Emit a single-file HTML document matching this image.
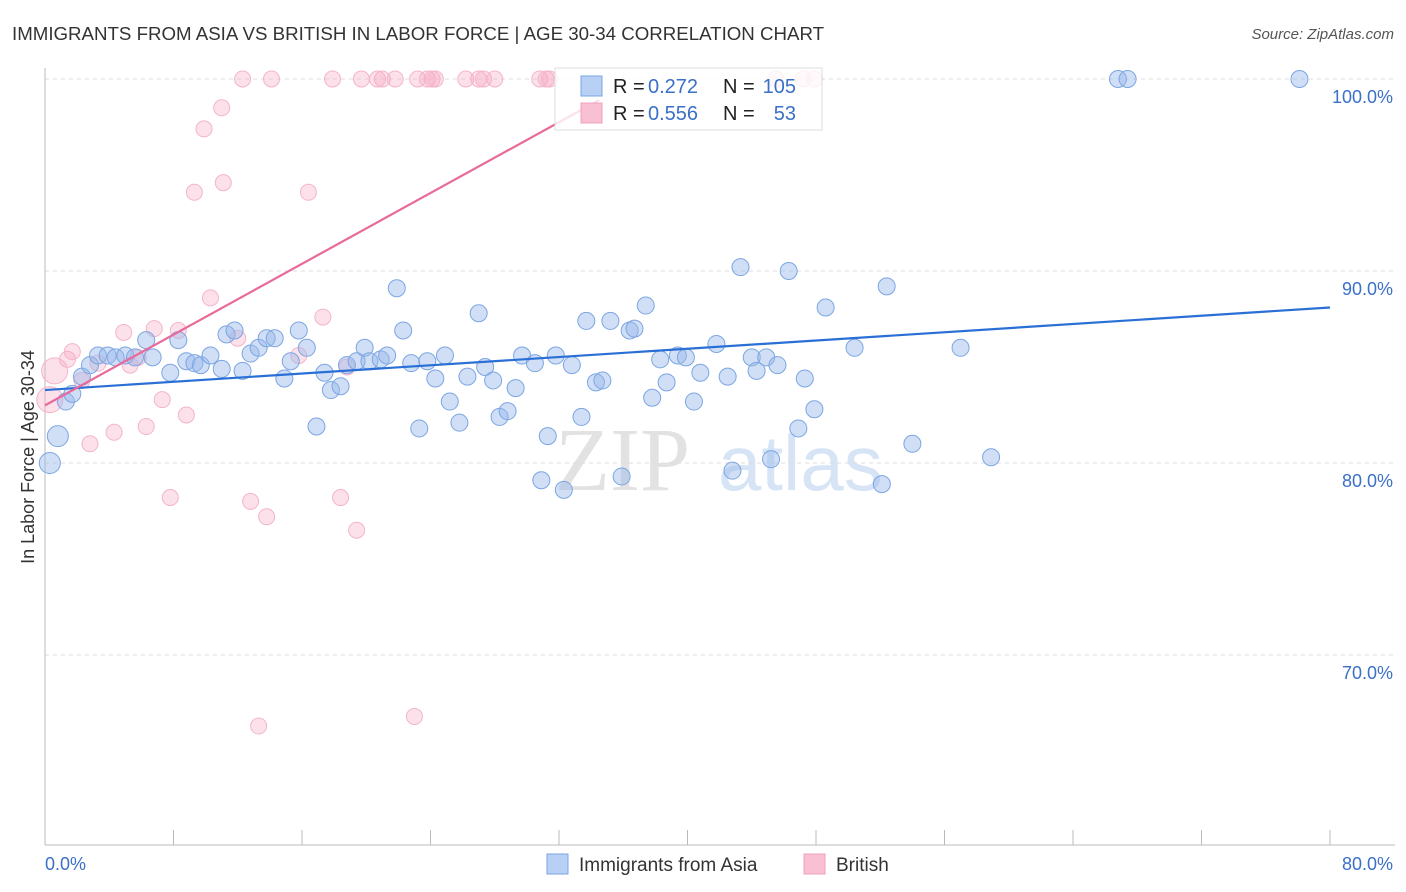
<!DOCTYPE html>
<html><head><meta charset="utf-8">
<style>
body{margin:0;background:#fff;font-family:"Liberation Sans",sans-serif;}
#wrap{position:relative;width:1406px;height:892px;overflow:hidden;}
</style></head>
<body>
<div id="wrap">
<svg id="chart" width="1406" height="892"></svg>
</div>
<script>
const blueX=[0.3,0.8,1.3,1.7,2.3,2.8,3.3,3.9,4.4,5.0,5.6,6.3,6.7,7.8,8.3,8.8,9.3,9.7,10.3,11.0,11.3,11.8,12.3,12.8,13.3,13.8,14.3,14.9,15.3,15.8,16.3,16.9,17.4,17.8,18.4,18.8,19.4,19.9,20.2,20.9,21.3,21.9,22.3,22.8,23.3,23.8,24.3,24.9,25.2,25.8,26.3,27.0,27.4,27.9,28.3,28.8,29.3,29.7,30.5,30.9,31.3,31.8,32.3,32.8,33.4,33.7,34.3,34.7,35.2,35.9,36.4,36.7,37.4,37.8,38.3,38.7,39.4,39.9,40.4,40.8,41.8,42.5,42.8,43.3,44.0,44.3,44.9,45.2,45.6,46.3,46.9,47.3,47.9,48.6,50.4,52.1,52.4,54.0,57.0,58.9,66.8,67.4,78.1];
const blueY=[80.0,81.4,83.2,83.6,84.5,85.1,85.6,85.6,85.5,85.6,85.5,86.4,85.5,84.7,86.4,85.3,85.2,85.1,85.6,84.9,86.7,86.9,84.8,85.7,86.0,86.5,86.5,84.4,85.3,86.9,86.0,81.9,84.7,83.8,84.0,85.1,85.3,86.0,85.3,85.4,85.6,89.1,86.9,85.2,81.8,85.3,84.4,85.6,83.2,82.1,84.5,87.8,85.0,84.3,82.4,82.7,83.9,85.6,85.2,79.1,81.4,85.6,78.6,85.1,82.4,87.4,84.2,84.3,87.4,79.3,86.9,87.0,88.2,83.4,85.4,84.2,85.6,85.5,83.2,84.7,86.2,84.5,79.6,90.2,85.5,84.8,85.5,80.2,85.1,90.0,81.8,84.4,82.8,88.1,86.0,78.9,89.2,81.0,86.0,80.3,100,100,100];
const pinkX=[0.3,0.6,1.4,1.7,2.3,2.8,3.3,4.3,4.9,5.3,5.8,6.3,6.8,7.3,7.8,8.3,8.8,9.3,9.9,10.3,11.0,11.1,12.0,12.3,12.8,13.8,14.1,15.8,16.4,17.3,17.9,18.4,18.8,19.4,19.7,20.7,21.0,21.8,23.0,23.2,23.8,24.1,24.3,26.2,27.0,27.3,28.0,30.8,31.2,31.4,13.3,45.5,47.2,47.9];
const pinkY=[83.3,84.8,85.4,85.8,84.3,81.0,85.2,81.6,86.8,85.1,85.5,81.9,87.0,83.3,78.2,86.9,82.5,94.1,97.4,88.6,98.5,94.6,86.5,100,78.0,77.2,100,85.6,94.1,87.6,100,78.2,85.0,76.5,100,100,100,100,66.8,100,100,100,100,100,100,100,100,100,100,100,66.3,100,100,100];
const yTicks=[100,90,80,70];
const yTickLabels=["100.0%","90.0%","80.0%","70.0%"];
const xTickLabels=["0.0%","80.0%"];
const blueTrend=[83.8,88.1];
const pinkTrend=[83.0,98.9];
const pinkTrendEndX=34.5;

const NS="http://www.w3.org/2000/svg";
const svg=document.getElementById('chart');
const X=v=>45+v*(1285/80);
const Y=v=>79+(100-v)*19.2;
function mk(tag,attrs,parent){const e=document.createElementNS(NS,tag);for(const k in attrs)e.setAttribute(k,attrs[k]);(parent||svg).appendChild(e);return e;}

let t=mk('text',{x:12,y:40,'font-size':18.7,fill:'#333'});t.textContent="IMMIGRANTS FROM ASIA VS BRITISH IN LABOR FORCE | AGE 30-34 CORRELATION CHART";

t=mk('text',{x:1394,y:39,'font-size':15,fill:'#555','text-anchor':'end','font-style':'italic'});t.textContent="Source: ZipAtlas.com";


t=mk('text',{x:555,y:490,'font-size':90,fill:'#e2e2e2','font-family':'Liberation Serif'});t.textContent="ZIP";

t=mk('text',{x:718,y:490,'font-size':78,fill:'#d6e4f5'});t.textContent="atlas";


yTicks.forEach((v,i)=>{
 const g=mk('line',{x1:45,x2:1395,y1:Y(v),y2:Y(v),stroke:'#ddd','stroke-dasharray':'4,4'});
 
 const l=mk('text',{x:1393,y:Y(v)+24,'font-size':18,fill:'#3a70c8','text-anchor':'end'});l.textContent=yTickLabels[i];
 
});
let a=mk('line',{x1:45,x2:45,y1:68,y2:845,stroke:'#bbb'});
a=mk('line',{x1:45,x2:1395,y1:845,y2:845,stroke:'#bbb'});
for(let i=0;i<=10;i++){const tk=mk('line',{x1:X(i*8),x2:X(i*8),y1:830,y2:845,stroke:'#bbb'});}
t=mk('text',{x:45,y:870,'font-size':18,fill:'#3a70c8'});t.textContent=xTickLabels[0];
t=mk('text',{x:1393,y:870,'font-size':18,fill:'#3a70c8','text-anchor':'end'});t.textContent=xTickLabels[1];
t=mk('text',{x:34,y:457,'font-size':18,fill:'#333','text-anchor':'middle',transform:'rotate(-90 34 457)'});t.textContent="In Labor Force | Age 30-34";


pinkX.forEach((v,i)=>{const big=i<2;const c=mk('circle',{cx:X(v),cy:Y(pinkY[i]),r:big?13:8,fill:'rgba(245,170,195,0.35)',stroke:'#f4b4ca','stroke-width':1});
 });
blueX.forEach((v,i)=>{const big=i<2;const c=mk('circle',{cx:X(v),cy:Y(blueY[i]),r:big?10.5:8.5,fill:'rgba(150,185,235,0.45)',stroke:'#7ca6e2','stroke-width':1});
 });

let ln=mk('line',{x1:X(0),x2:X(80),y1:Y(blueTrend[0]),y2:Y(blueTrend[1]),stroke:'#2a6fd6','stroke-width':2.2});

ln=mk('line',{x1:X(0),x2:X(pinkTrendEndX),y1:Y(pinkTrend[0]),y2:Y(pinkTrend[1]),stroke:'#e8699a','stroke-width':2.2});


const lg=mk('g',{});
mk('rect',{x:555,y:68,width:267,height:62,fill:'rgba(255,255,255,0.8)',stroke:'#ddd'},lg);
mk('rect',{x:581,y:76,width:21,height:20,fill:'#b8d0f3',stroke:'#7aa6e6'},lg);
mk('rect',{x:581,y:103,width:21,height:20,fill:'#f8c0d2',stroke:'#f0a0bc'},lg);
function lt(x,y,s,c,anchor){const e=mk('text',{x:x,y:y,'font-size':20,fill:c,'text-anchor':anchor||'start'},lg);e.textContent=s;return e;}
lt(613,93,"R = ","#222");lt(648,93,"0.272","#3a70c8");lt(723,93,"N = ","#222");lt(796,93,"105","#3a70c8","end");
lt(613,120,"R = ","#222");lt(648,120,"0.556","#3a70c8");lt(723,120,"N = ","#222");lt(796,120,"53","#3a70c8","end");

const bl=mk('g',{});
mk('rect',{x:547,y:854,width:21,height:20,fill:'#b8d0f3',stroke:'#7aa6e6'},bl);
let b=mk('text',{x:579,y:871,'font-size':19,fill:'#333'},bl);b.textContent="Immigrants from Asia";

mk('rect',{x:804,y:854,width:21,height:20,fill:'#f8c0d2',stroke:'#f0a0bc'},bl);
b=mk('text',{x:836,y:871,'font-size':19,fill:'#333'},bl);b.textContent="British";

</script>
</body></html>
